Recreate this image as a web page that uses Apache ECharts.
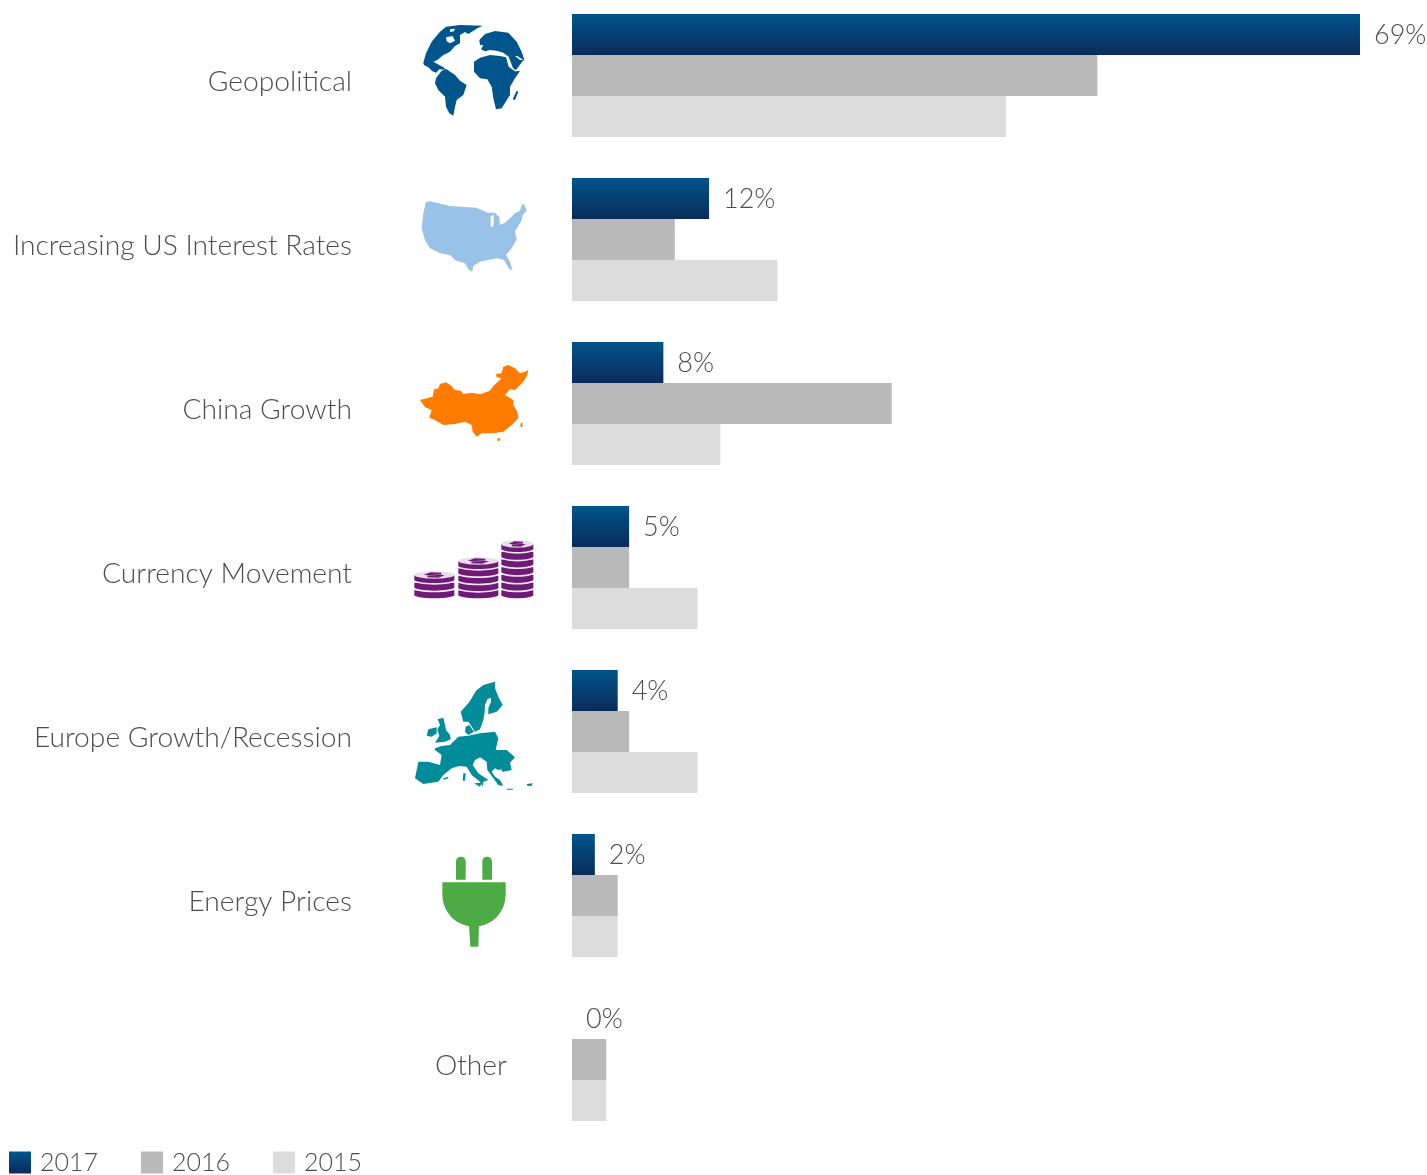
<!DOCTYPE html>
<html>
<head>
<meta charset="utf-8">
<title>Top risks by year</title>
<style>
html,body{margin:0;padding:0;background:#fff;overflow:hidden;width:1427px;height:1175px}
#chart{position:absolute;left:0;top:-7px;width:1440px;height:1182px}
</style>
<script src="https://cdn.jsdelivr.net/npm/echarts@6/dist/echarts.min.js"></script>
</head>
<body>
<div id="chart"></div>
<script>
const categories = ['Geopolitical', 'Increasing US Interest Rates', 'China Growth', 'Currency Movement', 'Europe Growth/Recession', 'Energy Prices', 'Other'];
const years = ['2017', '2016', '2015'];
const values2017 = [69, 12, 8, 5, 4, 2, 0];
const values2016 = [46, 9, 28, 5, 5, 4, 3];
const values2015 = [38, 18, 13, 11, 11, 4, 3];

const FONT = 'Lato';
const TEXT = '#4c4d4f';
const SHIFT = 7; // the chart box starts this far above the page
const navy = new echarts.graphic.LinearGradient(0, 0, 0, 1, [
  { offset: 0, color: '#00558c' },
  { offset: 1, color: '#0b2b5b' }
]);

// Icon outlines, drawn in a 3x local space and scaled down by their group.
const globeShapes = [
  [[138,50],[180,45],[248,47],[232,55],[205,72],[195,66],[180,75],[180,100],[165,108],[150,125],[130,135],[112,150],[100,155],[118,165],[130,172],[140,180],[118,178],[108,188],[96,183],[85,172],[72,165],[70,158],[78,130],[95,95],[120,65]],
  [[108,205],[125,182],[140,178],[165,195],[180,212],[200,225],[190,255],[170,270],[165,290],[160,317],[148,310],[138,290],[135,260],[115,240],[105,220]],
  [[222,155],[240,143],[270,135],[300,138],[318,142],[326,170],[345,184],[360,183],[345,205],[330,230],[330,255],[305,295],[288,298],[280,265],[275,230],[262,208],[240,205],[222,185]],
  [[238,90],[255,72],[285,63],[325,68],[350,95],[365,125],[373,150],[368,153],[350,178],[345,180],[338,172],[326,140],[310,128],[290,122],[270,120],[255,124],[243,118],[250,105],[240,105]],
  [[350,242],[355,245],[345,270],[338,268]]
];
const globeCutouts = [
  [[138,82],[158,78],[165,92],[150,100],[140,94]],
  [[150,58],[165,56],[162,64],[150,66]],
  [[345,138],[352,138],[370,150],[360,150]]
];
const usaShapes = [
  [[78,66],[90,64],[150,78],[228,83],[250,92],[262,98],[285,98],[298,112],[300,135],[315,128],[330,115],[345,100],[360,92],[365,75],[372,72],[380,92],[368,105],[365,122],[350,145],[345,155],[350,178],[335,205],[318,225],[330,245],[337,270],[328,268],[312,240],[290,235],[265,240],[240,245],[220,258],[217,275],[205,268],[195,250],[178,245],[165,240],[150,225],[120,220],[90,205],[75,180],[65,145],[70,100]]
];
const usaCutouts = [
  [[272,108],[282,105],[280,140],[272,140]]
];
const chinaShapes = [
  [[60,150],[98,140],[102,118],[115,115],[120,102],[138,97],[155,108],[165,120],[183,122],[190,132],[215,128],[240,133],[270,122],[280,108],[305,85],[290,82],[288,72],[305,70],[310,50],[325,45],[345,55],[360,70],[375,65],[385,60],[382,75],[370,95],[345,120],[330,118],[315,135],[340,150],[340,165],[352,185],[355,205],[335,225],[310,245],[280,250],[245,250],[230,260],[218,245],[215,225],[195,215],[165,222],[130,225],[105,210],[88,203],[95,180],[75,172]],
  [[292,265],[302,265],[298,273],[292,272]],
  [[362,218],[368,220],[367,232],[361,230]]
];
const europeShapes = [
  [[228,62],[250,45],[285,35],[285,55],[295,80],[308,105],[290,125],[265,133],[265,115],[273,95],[273,83],[262,88],[255,105],[254,125],[250,150],[240,178],[225,185],[212,165],[205,155],[190,155],[182,125],[205,100],[215,85]],
  [[197,170],[208,165],[222,185],[205,195],[195,185]],
  [[113,148],[130,143],[135,165],[138,180],[150,195],[152,208],[135,215],[105,218],[118,198],[112,178],[120,165]],
  [[85,178],[110,172],[110,190],[95,200],[80,197]],
  [[105,235],[125,228],[150,225],[175,200],[205,197],[240,190],[285,185],[295,205],[287,240],[320,240],[345,262],[330,278],[335,300],[310,305],[295,300],[285,295],[275,305],[285,320],[300,330],[310,348],[295,345],[280,325],[262,300],[260,275],[240,262],[225,270],[218,285],[235,310],[265,330],[250,335],[248,350],[240,335],[215,315],[200,290],[178,288],[155,295],[130,315],[115,335],[70,342],[45,325],[55,275],[85,275],[120,285],[125,255],[105,240]],
  [[190,310],[197,310],[195,332],[188,332]],
  [[222,340],[245,338],[240,350]],
  [[320,356],[340,356],[338,359],[320,359]],
  [[380,342],[398,340],[395,348],[382,347]],
  [[130,325],[145,320],[145,325],[132,329]]
];
const europeCutouts = [
  [[285,302],[305,298],[305,310],[292,315]]
];

function polygons(list, fill) {
  return list.map(points => ({ type: 'polygon', silent: true, shape: { points }, style: { fill } }));
}

function icon(x, y, children) {
  return { type: 'group', x, y: y + SHIFT, scaleX: 1 / 3, scaleY: 1 / 3, silent: true, children };
}

// One stack of coins, painted from the bottom coin upwards; every stack rests on the same base.
function coinStack(cx, rx, topY, count) {
  const purple = '#6f1a77', pale = '#f1e9f2';
  const ry = 10, body = 14, lastTop = 181;
  const pitch = (lastTop - topY) / (count - 1);
  const parts = [];
  for (let k = count - 1; k >= 0; k--) {
    const y = topY + k * pitch;
    parts.push({ type: 'ellipse', silent: true, shape: { cx, cy: y + body, rx, ry }, style: { fill: purple } });
    parts.push({ type: 'rect', silent: true, shape: { x: cx - rx, y, width: 2 * rx, height: body }, style: { fill: purple } });
    if (k > 0) {
      parts.push({ type: 'ellipse', silent: true, shape: { cx, cy: y - pitch + body + 5, rx, ry }, style: { fill: pale } });
    }
  }
  parts.push({ type: 'ellipse', silent: true, shape: { cx, cy: topY, rx, ry: 11 }, style: { fill: '#e9dfea' } });
  const w = rx * 0.35;
  parts.push({
    type: 'polyline', silent: true,
    shape: { points: [[cx + w, topY - 4], [cx - w * 0.5, topY - 6], [cx - w, topY - 2], [cx + w, topY + 2], [cx + w * 0.5, topY + 6], [cx - w, topY + 4]] },
    style: { stroke: purple, lineWidth: 5, fill: 'none' }
  });
  return parts;
}

const plugGreen = '#4cab45';
const plugParts = [
  { type: 'rect', silent: true, shape: { x: 108, y: 35, width: 29, height: 69, r: [14, 14, 0, 0] }, style: { fill: plugGreen } },
  { type: 'rect', silent: true, shape: { x: 187, y: 35, width: 29, height: 69, r: [14, 14, 0, 0] }, style: { fill: plugGreen } },
  { type: 'rect', silent: true, shape: { x: 67, y: 112, width: 190, height: 41 }, style: { fill: plugGreen } },
  { type: 'sector', silent: true, shape: { cx: 162, cy: 150, r: 95, startAngle: 0, endAngle: Math.PI, clockwise: true }, style: { fill: plugGreen } },
  { type: 'polygon', silent: true, shape: { points: [[147, 240], [177, 240], [175, 305], [151, 305]] }, style: { fill: plugGreen } }
];

const iconLayer = [
  icon(400, 10, polygons(globeShapes, '#00558c').concat(polygons(globeCutouts, '#ffffff'))),
  icon(400, 180, polygons(usaShapes, '#99c2e8').concat(polygons(usaCutouts, '#ffffff'))),
  icon(400, 350, polygons(chinaShapes, '#ff7c00')),
  icon(400, 530, [].concat(coinStack(103, 60, 135, 3), coinStack(235, 60, 93, 5), coinStack(352, 48, 42, 7))),
  icon(400, 670, polygons(europeShapes, '#008c99').concat(polygons(europeCutouts, '#ffffff'))),
  icon(420, 845, plugParts)
];

function barSeries(name, data, color, labelled) {
  return {
    name, type: 'bar', data, barGap: 0, barCategoryGap: '25%',
    yAxisIndex: 0,
    itemStyle: { color },
    silent: true,
    label: labelled ? {
      show: true, position: 'right', distance: 14, formatter: '{c}%',
      fontFamily: FONT, fontWeight: 300, fontSize: 27, color: TEXT, offset: [0, 1]
    } : { show: false }
  };
}

const categoryLabel = {
  fontFamily: FONT, fontWeight: 300, fontSize: 28.2, color: TEXT,
  verticalAlign: 'top', lineHeight: 12
};

const chart = echarts.init(document.getElementById('chart'), null, { renderer: 'canvas' });
chart.setOption({
  animation: false,
  backgroundColor: '#ffffff',
  grid: { left: 572, top: 0.5, width: 856.5, height: 1148, containLabel: false },
  legend: {
    left: 9, top: 1150 + SHIFT, padding: 0, itemWidth: 22, itemHeight: 22, itemGap: 43,
    data: years, icon: 'rect',
    textStyle: { fontFamily: FONT, fontWeight: 300, fontSize: 25, color: TEXT, lineHeight: 24, padding: [0, 0, 0, 4] },
    itemStyle: { borderWidth: 0 }
  },
  xAxis: { type: 'value', min: 0, max: 75, show: false },
  yAxis: [
    {
      type: 'category', inverse: true, data: categories, position: 'left',
      axisLine: { show: false }, axisTick: { show: false },
      axisLabel: Object.assign({ margin: 220, formatter: v => (v === 'Other' ? '' : v) }, categoryLabel)
    },
    {
      type: 'category', inverse: true, data: categories, position: 'left',
      axisLine: { show: false }, axisTick: { show: false },
      axisLabel: Object.assign({ margin: 65, formatter: v => (v === 'Other' ? v : '') }, categoryLabel)
    }
  ],
  series: [
    barSeries(years[0], values2017, navy, true),
    barSeries(years[1], values2016, '#b9b9b9', false),
    barSeries(years[2], values2015, '#dcdcdc', false)
  ],
  graphic: { elements: iconLayer }
});
</script>
</body>
</html>
